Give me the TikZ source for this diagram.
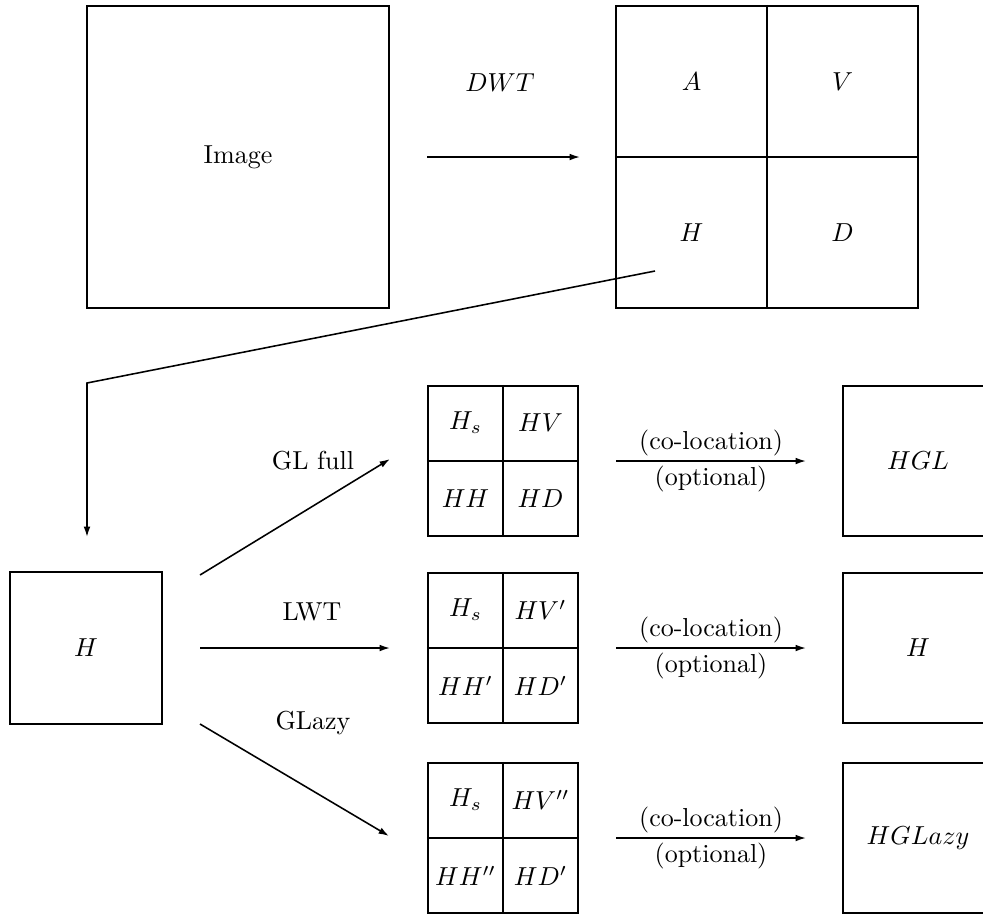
\documentclass[tikz,border=0pt]{standalone}
\usetikzlibrary{arrows.meta}
\begin{document}
\begin{tikzpicture}[x=0.3846pt,y=-0.3846pt,
  sq/.style={draw, line width=0.8pt, inner sep=0pt, minimum width=#1, minimum height=#1},
  divl/.style={line width=0.8pt},
  arr/.style={line width=0.6pt, -{Latex[length=4pt,width=2.6pt]}},
  lnk/.style={line width=0.6pt}]
\useasboundingbox (0,0) rectangle (983,916);
\clip (0,0) rectangle (983,916);

% top row
\node[sq=116.15pt] (img) at (238,157) {Image};
\node[sq=116.15pt] (dwt) at (767,157) {};
\draw[divl] (dwt.north) -- (dwt.south);
\draw[divl] (dwt.west) -- (dwt.east);
\node (cA) at (691.5,82) {$A$};
\node (cV) at (842.5,82) {$V$};
\node (cH) at (691.5,233) {$H$};
\node (cD) at (842.5,233) {$D$};
\coordinate (dwtS) at (427,157);
\coordinate (dwtE) at (580,157);
\draw[arr] (dwtS) -- (dwtE);
\node (dwtl) at (500,83) {$DWT$};

% link from H sub-band down
\coordinate (hsrc) at (655,271);
\coordinate (bend) at (87,383);
\coordinate (hdst) at (87,537);
\draw[arr] (hsrc) -- (bend) -- (hdst);

% H box
\node[sq=58.2pt] (Hb) at (86,648) {$H$};

% branch arrows
\coordinate (s1) at (200,575); \coordinate (e1) at (390,459);
\coordinate (s2) at (200,648); \coordinate (e2) at (390,648);
\coordinate (s3) at (200,724); \coordinate (e3) at (389,836);
\draw[arr] (s1) -- (e1);
\draw[arr] (s2) -- (e2);
\draw[arr] (s3) -- (e3);
\node (l1) at (313,461) {GL full};
\node (l2) at (312,612) {LWT};
\node (l3) at (313,723) {GLazy};

% grids
\node[sq=57.7pt] (g1) at (503,461) {};
\node[sq=57.7pt] (g2) at (503,648) {};
\node[sq=57.7pt] (g3) at (503,838) {};
\foreach \g in {g1,g2,g3}{
  \draw[divl] (\g.north) -- (\g.south);
  \draw[divl] (\g.west) -- (\g.east);
}
\node (g1a) at (465.5,423) {$H_s$};
\node (g1b) at (540.5,423) {$HV$};
\node (g1c) at (465.5,499) {$HH$};
\node (g1d) at (540.5,499) {$HD$};
\node (g2a) at (465.5,610) {$H_s$};
\node (g2b) at (540.5,610) {$HV'$};
\node (g2c) at (465.5,686) {$HH'$};
\node (g2d) at (540.5,686) {$HD'$};
\node (g3a) at (465.5,800) {$H_s$};
\node (g3b) at (540.5,800) {$HV''$};
\node (g3c) at (465.5,876) {$HH''$};
\node (g3d) at (540.5,876) {$HD'$};

% right arrows
\foreach \n/\y in {1/461,2/648,3/838}{
  \coordinate (r\n s) at (616,\y);
  \coordinate (r\n e) at (806,\y);
  \draw[arr] (r\n s) -- (r\n e);
  \node (co\n) at (711,\y-18) {(co-location)};
  \node (op\n) at (711,\y+18) {(optional)};
}

% right boxes
\node[sq=57.7pt] (R1) at (918,461) {$HGL$};
\node[sq=57.7pt] (R2) at (918,648) {$H$};
\node[sq=57.7pt] (R3) at (918,838) {$HGLazy$};
\end{tikzpicture}
\end{document}
